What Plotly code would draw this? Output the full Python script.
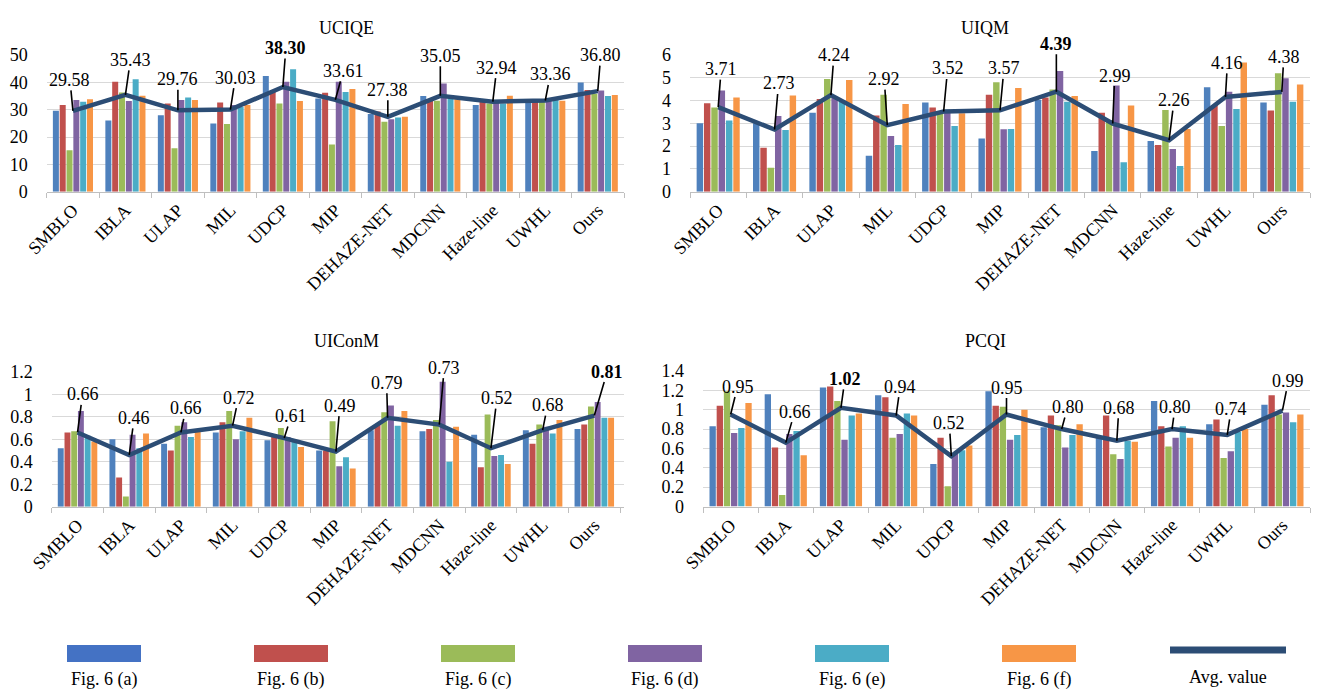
import plotly.graph_objects as go

categories = ["SMBLO", "IBLA", "ULAP", "MIL", "UDCP", "MIP", "DEHAZE-NET",
              "MDCNN", "Haze-line", "UWHL", "Ours"]
series_names = ["Fig. 6 (a)", "Fig. 6 (b)", "Fig. 6 (c)", "Fig. 6 (d)",
                "Fig. 6 (e)", "Fig. 6 (f)"]
avg_name = "Avg. value"

# ---- UCIQE ----
uciqe_a = [29.6, 26.0, 28.0, 24.9, 42.3, 34.1, 28.4, 35.0, 31.7, 32.9, 39.9]
uciqe_b = [31.7, 40.2, 32.3, 32.6, 36.6, 36.2, 29.3, 33.8, 32.9, 32.9, 37.2]
uciqe_c = [15.2, 36.3, 15.9, 24.8, 32.3, 17.3, 25.6, 33.3, 32.3, 33.3, 35.7]
uciqe_d = [33.5, 33.2, 33.5, 31.7, 40.2, 40.2, 26.5, 39.6, 32.9, 33.5, 37.0]
uciqe_e = [32.9, 41.1, 34.5, 31.0, 44.8, 36.5, 27.1, 34.1, 32.3, 33.5, 35.0]
uciqe_f = [33.8, 35.1, 33.5, 31.7, 33.2, 37.6, 27.4, 33.8, 35.1, 33.3, 35.4]
uciqe_avg = [29.58, 35.43, 29.76, 30.03, 38.30, 33.61, 27.38, 35.05, 32.94, 33.36, 36.80]

# ---- UIQM ----
uiqm_a = [3.00, 3.00, 3.47, 1.58, 3.92, 2.34, 4.03, 1.79, 2.23, 4.58, 3.91]
uiqm_b = [3.88, 1.93, 4.07, 3.34, 3.70, 4.25, 4.14, 3.47, 2.05, 3.81, 3.56]
uiqm_c = [3.70, 1.05, 4.95, 4.26, 3.51, 4.80, 4.49, 3.15, 3.59, 2.88, 5.20]
uiqm_d = [4.44, 3.32, 4.17, 2.44, 3.59, 2.74, 5.30, 4.66, 1.87, 4.39, 4.98]
uiqm_e = [3.12, 2.71, 3.95, 2.05, 2.88, 2.75, 3.95, 1.29, 1.13, 3.63, 3.95]
uiqm_f = [4.13, 4.22, 4.90, 3.85, 3.44, 4.55, 4.20, 3.78, 2.75, 5.67, 4.71]
uiqm_avg = [3.71, 2.73, 4.24, 2.92, 3.52, 3.57, 4.39, 2.99, 2.26, 4.16, 4.38]

# ---- UIConM ----
uiconm_a = [0.52, 0.60, 0.56, 0.66, 0.59, 0.50, 0.68, 0.67, 0.64, 0.68, 0.69]
uiconm_b = [0.66, 0.26, 0.50, 0.75, 0.63, 0.50, 0.73, 0.69, 0.35, 0.56, 0.73]
uiconm_c = [0.67, 0.09, 0.72, 0.85, 0.70, 0.76, 0.84, 0.77, 0.82, 0.73, 0.89]
uiconm_d = [0.85, 0.64, 0.75, 0.60, 0.62, 0.36, 0.90, 1.11, 0.45, 0.71, 0.93]
uiconm_e = [0.63, 0.52, 0.62, 0.67, 0.58, 0.44, 0.72, 0.40, 0.46, 0.65, 0.79]
uiconm_f = [0.58, 0.65, 0.67, 0.79, 0.53, 0.34, 0.85, 0.71, 0.38, 0.77, 0.79]
uiconm_avg = [0.66, 0.46, 0.66, 0.72, 0.61, 0.49, 0.79, 0.73, 0.52, 0.68, 0.81]

# ---- PCQI ----
pcqi_a = [0.83, 1.16, 1.23, 1.15, 0.44, 1.19, 0.82, 0.72, 1.09, 0.85, 1.05]
pcqi_b = [1.04, 0.61, 1.24, 1.13, 0.71, 1.04, 0.94, 0.94, 0.83, 0.90, 1.15]
pcqi_c = [1.19, 0.12, 1.09, 0.71, 0.21, 1.03, 0.84, 0.54, 0.62, 0.50, 0.95]
pcqi_d = [0.76, 0.75, 0.69, 0.75, 0.55, 0.69, 0.61, 0.49, 0.71, 0.57, 0.97]
pcqi_e = [0.81, 0.78, 0.94, 0.96, 0.58, 0.74, 0.74, 0.68, 0.83, 0.77, 0.87]
pcqi_f = [1.07, 0.53, 0.96, 0.94, 0.63, 1.00, 0.85, 0.67, 0.71, 0.80, 0.95]
pcqi_avg = [0.95, 0.66, 1.02, 0.94, 0.52, 0.95, 0.80, 0.68, 0.80, 0.74, 0.99]

titles = ["UCIQE", "UIQM", "UIConM", "PCQI"]
y_ranges = [(0, 50, 10), (0, 6, 1), (0, 1.2, 0.2), (0, 1.4, 0.2)]

# ---- styling / layout constants ----
OFF = 8                 # page body margin
W, H = 1303, 686        # figure size
bar_colors = ["#4F81BD", "#C0504D", "#9BBB59", "#8064A2", "#4BACC6", "#F79646"]
legend_colors = ["#4472C4", "#C0504D", "#9BBB59", "#8064A2", "#4BACC6", "#F79646"]
avg_color = "#2C4D75"
FONT = "Liberation Serif, Times New Roman, serif"


def px(xs):
    return (xs - OFF) / W


def py(ys):
    return 1 - (ys - OFF) / H


# plot areas in screen pixels: (x0, x1, ytop, ybottom)
areas = [(46.7, 624.0, 55.0, 191.7),
         (690.0, 1310.0, 55.0, 191.7),
         (51.7, 624.3, 371.7, 506.7),
         (703.0, 1310.0, 371.0, 506.5)]
title_pos = [(346, 28), (985, 28), (346, 341), (985, 341)]

# label offsets (pixels) of the average-value callouts
offsets = [
    [(-3, -31), (5, -35), (0, -31), (5, -32), (3, -39), (8, -29), (0, -27), (0, -40), (4, -34), (5, -26), (3, -36)],
    [(3, -38), (4, -46), (3, -40), (-3, -46), (4, -43), (4, -42), (0, -48), (2, -48), (5, -40), (2, -34), (2, -35)],
    [(5, -38), (5, -37), (5, -24), (6, -28), (7, -22), (4, -46), (-1, -35), (5, -57), (6, -50), (5, -25), (13, -44)],
    [(7, -28), (9, -31), (4, -29), (4, -29), (-2, -33), (0, -27), (6, -22), (2, -33), (3, -22), (4, -26), (6, -30)],
]

metric_series = [
    [uciqe_a, uciqe_b, uciqe_c, uciqe_d, uciqe_e, uciqe_f],
    [uiqm_a, uiqm_b, uiqm_c, uiqm_d, uiqm_e, uiqm_f],
    [uiconm_a, uiconm_b, uiconm_c, uiconm_d, uiconm_e, uiconm_f],
    [pcqi_a, pcqi_b, pcqi_c, pcqi_d, pcqi_e, pcqi_f],
]
metric_avgs = [uciqe_avg, uiqm_avg, uiconm_avg, pcqi_avg]

fig = go.Figure()
annotations = []
shapes = []
layout_axes = {}

for k in range(4):
    sfx = "" if k == 0 else str(k + 1)
    xa, ya = "x" + sfx, "y" + sfx
    for s, vals in enumerate(metric_series[k]):
        fig.add_trace(go.Bar(x=categories, y=vals, name=series_names[s],
                             marker=dict(color=bar_colors[s], line=dict(width=0)),
                             xaxis=xa, yaxis=ya, showlegend=False))
    avg = metric_avgs[k]
    fig.add_trace(go.Scatter(x=categories, y=avg, name=avg_name, mode="lines",
                             line=dict(color=avg_color, width=4.5),
                             xaxis=xa, yaxis=ya, showlegend=False))
    mx = max(avg)
    for i, (c, v) in enumerate(zip(categories, avg)):
        txt = f"{v:.2f}"
        if v == mx:
            txt = f"<b>{txt}</b>"
        ax, ay = offsets[k][i]
        annotations.append(dict(x=c, y=v, xref=xa, yref=ya, text=txt,
                                showarrow=True, arrowhead=0, arrowwidth=1.6,
                                arrowcolor="black", ax=ax, ay=ay, standoff=0,
                                startstandoff=0, borderpad=0,
                                font=dict(family=FONT, size=18, color="black")))
    x0, x1, yt, yb = areas[k]
    lo, hi, dt = y_ranges[k]
    layout_axes["xaxis" + sfx] = dict(
        domain=[px(x0), px(x1)], anchor=ya, type="category", automargin=False,
        showline=True, linecolor="#BFBFBF", linewidth=1,
        ticks="outside", tickson="boundaries", ticklen=5, tickcolor="#BFBFBF",
        tickangle=-45, showgrid=False,
        tickfont=dict(family=FONT, size=18, color="black"))
    layout_axes["yaxis" + sfx] = dict(
        domain=[py(yb), py(yt)], anchor=xa, range=[lo, hi], dtick=dt,
        automargin=False, ticklabelstandoff=18,
        showgrid=True, gridcolor="#D9D9D9", gridwidth=1, zeroline=False,
        showline=False, ticks="", ticklen=0,
        tickfont=dict(family=FONT, size=18, color="black"))
    tx, ty = title_pos[k]
    annotations.append(dict(x=px(tx), y=py(ty), xref="paper", yref="paper",
                            xanchor="center", yanchor="middle",
                            text=titles[k], showarrow=False,
                            font=dict(family=FONT, size=18, color="black")))

# custom legend (symbol above text)
leg_centers = [104, 291, 478, 665, 852, 1039]
for i, name in enumerate(series_names):
    cx = leg_centers[i]
    shapes.append(dict(type="rect", xref="paper", yref="paper",
                       x0=px(cx - 37), x1=px(cx + 37),
                       y0=py(662), y1=py(645),
                       fillcolor=legend_colors[i], line=dict(width=0)))
    annotations.append(dict(x=px(cx), y=py(679), xref="paper", yref="paper",
                            xanchor="center", yanchor="middle",
                            text=name, showarrow=False,
                            font=dict(family=FONT, size=18, color="black")))
shapes.append(dict(type="line", xref="paper", yref="paper",
                   x0=px(1170), x1=px(1286), y0=py(650), y1=py(650),
                   line=dict(color=avg_color, width=7)))
annotations.append(dict(x=px(1228), y=py(677), xref="paper", yref="paper",
                        xanchor="center", yanchor="middle",
                        text=avg_name, showarrow=False,
                        font=dict(family=FONT, size=18, color="black")))

fig.update_layout(
    width=W, height=H, autosize=False,
    margin=dict(l=0, r=0, t=0, b=0, autoexpand=False),
    paper_bgcolor="white", plot_bgcolor="white",
    barmode="group", bargap=0.22, bargroupgap=0.12,
    annotations=annotations, shapes=shapes,
    font=dict(family=FONT, color="black"),
    **layout_axes,
)

fig.write_html("out.html")
